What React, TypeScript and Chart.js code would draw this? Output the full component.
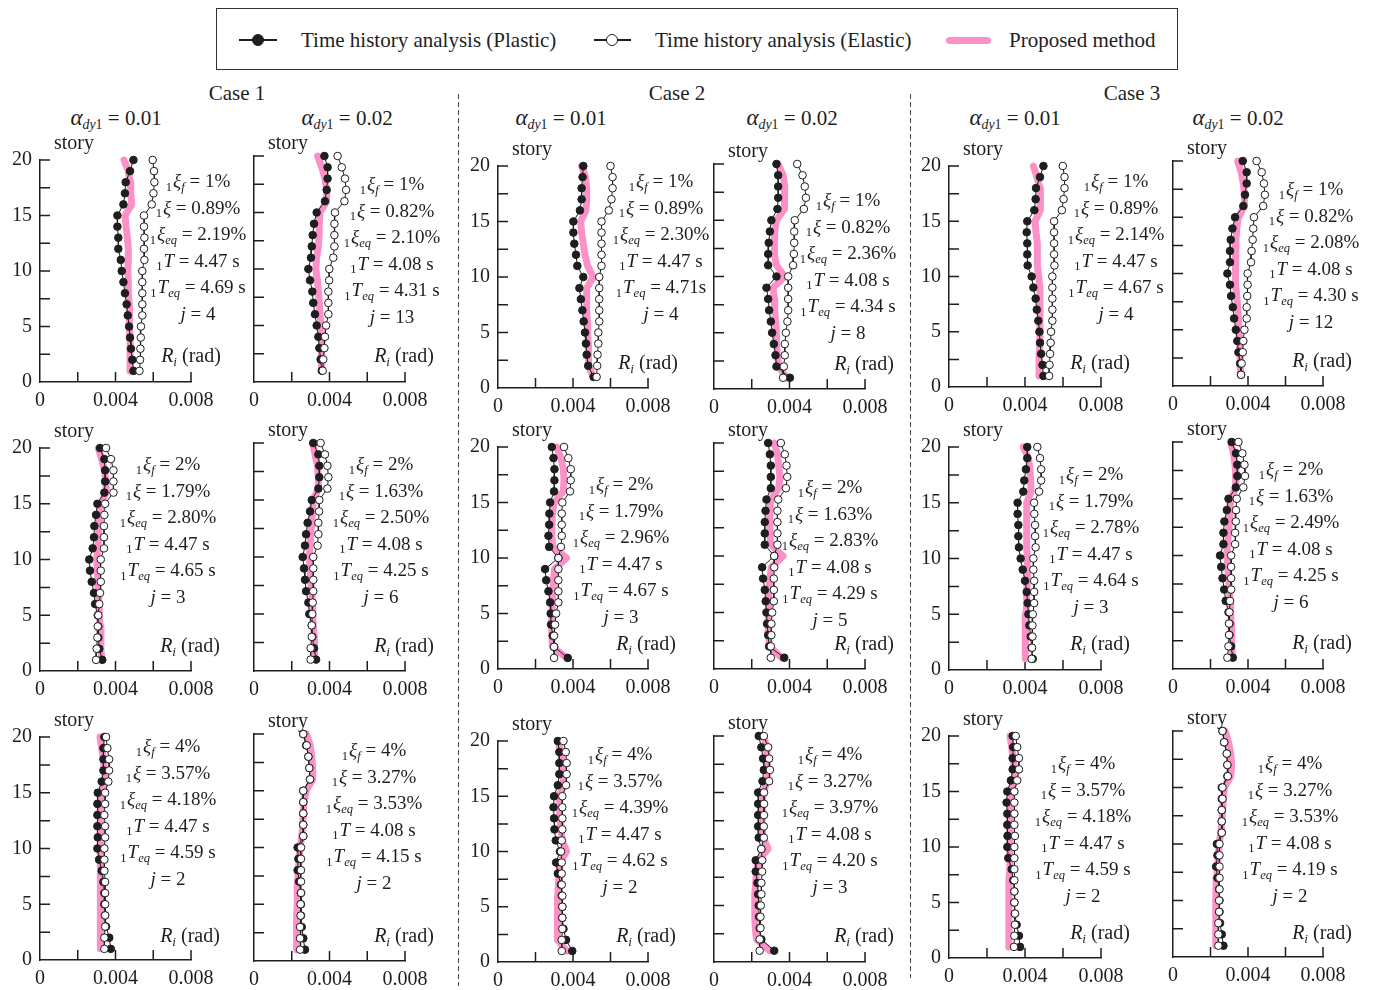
import React, { useEffect, useRef } from "react";
import { Chart, registerables } from "chart.js";

Chart.register(...registerables);

// ---------------- DATA ----------------
// Stories listed from top (20) to bottom (1)
const stories = [20, 19, 18, 17, 16, 15, 14, 13, 12, 11, 10, 9, 8, 7, 6, 5, 4, 3, 2, 1];
// Drift values R_i in units of 1e-3 rad.  c = case, a1 = α_dy1 0.01, a2 = α_dy1 0.02, d = 1ξf (1%, 2%, 4%)

// ---- 1ξf = 1% ----
const c1a1d1Plastic = [4.95, 4.77, 4.54, 4.5, 4.42, 4.1, 4.1, 4.15, 4.15, 4.28, 4.33, 4.42, 4.5, 4.59, 4.65, 4.72, 4.77, 4.82, 4.89, 4.95];
const c1a1d1Elastic = [5.97, 6.04, 6.06, 6.01, 5.92, 5.51, 5.51, 5.53, 5.51, 5.53, 5.42, 5.42, 5.42, 5.42, 5.42, 5.35, 5.34, 5.32, 5.3, 5.27];
const c1a1d1Proposed = [4.45, 4.68, 4.77, 4.81, 4.86, 4.51, 4.56, 4.63, 4.68, 4.68, 4.65, 4.68, 4.68, 4.72, 4.73, 4.75, 4.77, 4.77, 4.77, 4.77];

const c1a2d1Plastic = [3.73, 3.9, 3.9, 3.85, 3.76, 3.32, 3.18, 3.11, 3.06, 3.02, 2.88, 2.97, 3.09, 3.14, 3.23, 3.32, 3.41, 3.46, 3.53, 3.59];
const c1a2d1Elastic = [4.43, 4.65, 4.82, 4.88, 4.79, 4.29, 4.26, 4.26, 4.26, 4.2, 3.99, 3.98, 3.94, 3.94, 3.94, 3.82, 3.76, 3.73, 3.67, 3.64];
const c1a2d1Proposed = [3.37, 3.59, 3.76, 3.85, 3.85, 3.5, 3.46, 3.45, 3.41, 3.32, 3.27, 3.36, 3.41, 3.46, 3.5, 3.55, 3.59, 3.59, 3.59, 3.59];

const c2a1d1Plastic = [4.55, 4.51, 4.46, 4.46, 4.37, 4.02, 4.02, 4.07, 4.16, 4.23, 4.55, 4.34, 4.42, 4.5, 4.57, 4.64, 4.69, 4.73, 4.81, 5.1];
const c2a1d1Elastic = [6.0, 6.11, 6.11, 6.05, 5.91, 5.52, 5.52, 5.52, 5.52, 5.52, 5.4, 5.4, 5.4, 5.4, 5.4, 5.35, 5.35, 5.31, 5.29, 5.26];
const c2a1d1Proposed = [4.46, 4.67, 4.73, 4.73, 4.69, 4.41, 4.46, 4.55, 4.64, 4.78, 5.08, 4.73, 4.73, 4.73, 4.76, 4.78, 4.81, 4.81, 4.85, 5.08];

const c2a2d1Plastic = [3.31, 3.4, 3.4, 3.4, 3.36, 3.04, 2.96, 2.9, 2.87, 2.87, 3.31, 2.78, 2.87, 2.92, 3.01, 3.08, 3.17, 3.26, 3.31, 4.02];
const c2a2d1Elastic = [4.41, 4.69, 4.81, 4.87, 4.76, 4.28, 4.25, 4.25, 4.23, 4.19, 3.93, 3.93, 3.93, 3.93, 3.89, 3.81, 3.75, 3.75, 3.7, 3.66];
const c2a2d1Proposed = [3.4, 3.66, 3.75, 3.75, 3.72, 3.31, 3.22, 3.19, 3.22, 3.31, 3.75, 3.13, 3.19, 3.22, 3.26, 3.31, 3.31, 3.36, 3.43, 3.84];

const c3a1d1Plastic = [4.97, 4.79, 4.58, 4.56, 4.49, 4.12, 4.09, 4.12, 4.12, 4.14, 4.35, 4.44, 4.56, 4.62, 4.7, 4.76, 4.79, 4.85, 4.92, 4.97];
const c3a1d1Elastic = [5.99, 6.08, 6.08, 6.03, 5.94, 5.53, 5.53, 5.53, 5.53, 5.55, 5.44, 5.44, 5.44, 5.44, 5.44, 5.37, 5.35, 5.32, 5.29, 5.27];
const c3a1d1Proposed = [4.44, 4.63, 4.79, 4.79, 4.83, 4.53, 4.58, 4.65, 4.65, 4.65, 4.72, 4.79, 4.79, 4.79, 4.79, 4.79, 4.79, 4.76, 4.74, 4.74];

const c3a2d1Plastic = [3.72, 3.93, 3.93, 3.84, 3.75, 3.31, 3.17, 3.08, 3.04, 3.04, 2.9, 3.04, 3.1, 3.19, 3.26, 3.35, 3.43, 3.49, 3.58, 3.63];
const c3a2d1Elastic = [4.46, 4.73, 4.85, 4.9, 4.81, 4.32, 4.28, 4.25, 4.19, 4.16, 3.98, 3.98, 3.96, 3.93, 3.93, 3.81, 3.75, 3.72, 3.66, 3.63];
const c3a2d1Proposed = [3.45, 3.63, 3.75, 3.81, 3.81, 3.49, 3.4, 3.36, 3.36, 3.31, 3.31, 3.36, 3.4, 3.45, 3.49, 3.52, 3.54, 3.58, 3.58, 3.61];

// ---- 1ξf = 2% ----
const c1a1d2Plastic = [3.18, 3.41, 3.45, 3.45, 3.41, 3.04, 2.97, 2.88, 2.86, 2.79, 2.61, 2.65, 2.74, 2.86, 2.92, 3.06, 3.09, 3.09, 3.14, 3.3];
const c1a1d2Elastic = [3.5, 3.76, 3.89, 3.89, 3.89, 3.45, 3.41, 3.39, 3.39, 3.39, 3.22, 3.22, 3.22, 3.18, 3.14, 3.09, 3.06, 3.04, 3.0, 2.97];
const c1a1d2Proposed = [3.09, 3.27, 3.41, 3.5, 3.5, 3.23, 3.18, 3.13, 3.09, 3.06, 3.0, 3.04, 3.06, 3.09, 3.13, 3.14, 3.18, 3.22, 3.23, 3.27];

const c1a2d2Plastic = [3.14, 3.41, 3.46, 3.46, 3.41, 3.06, 2.97, 2.84, 2.76, 2.7, 2.58, 2.65, 2.7, 2.76, 2.88, 2.93, 3.06, 3.09, 3.18, 3.29];
const c1a2d2Elastic = [3.53, 3.76, 3.89, 3.94, 3.89, 3.46, 3.45, 3.41, 3.41, 3.37, 3.14, 3.14, 3.14, 3.14, 3.11, 3.09, 3.06, 3.06, 3.0, 3.0];
const c1a2d2Proposed = [3.11, 3.23, 3.36, 3.41, 3.41, 3.14, 3.09, 3.06, 3.0, 2.97, 2.93, 2.97, 3.0, 3.06, 3.09, 3.11, 3.14, 3.18, 3.18, 3.23];

const c2a1d2Plastic = [2.87, 2.96, 3.01, 3.01, 2.99, 2.78, 2.74, 2.73, 2.69, 2.73, 3.22, 2.51, 2.57, 2.69, 2.78, 2.81, 2.83, 2.92, 2.99, 3.72];
const c2a1d2Elastic = [3.52, 3.75, 3.88, 3.88, 3.84, 3.43, 3.4, 3.4, 3.4, 3.36, 3.22, 3.22, 3.22, 3.22, 3.22, 3.1, 3.04, 2.99, 2.99, 2.99];
const c2a1d2Proposed = [3.13, 3.36, 3.49, 3.52, 3.48, 2.99, 2.9, 2.87, 2.87, 2.92, 3.66, 3.01, 2.96, 2.92, 2.9, 2.87, 2.87, 2.87, 2.9, 3.66];

const c2a2d2Plastic = [2.87, 2.96, 3.01, 3.01, 3.01, 2.78, 2.73, 2.69, 2.69, 2.69, 3.19, 2.55, 2.6, 2.69, 2.74, 2.78, 2.81, 2.87, 2.92, 3.72];
const c2a2d2Elastic = [3.54, 3.75, 3.84, 3.88, 3.81, 3.4, 3.36, 3.36, 3.36, 3.36, 3.19, 3.19, 3.17, 3.17, 3.17, 3.08, 3.04, 3.04, 3.01, 3.01];
const c2a2d2Proposed = [3.19, 3.36, 3.43, 3.49, 3.43, 3.01, 2.96, 2.96, 2.96, 3.01, 3.66, 3.04, 2.96, 2.9, 2.87, 2.87, 2.87, 2.87, 2.96, 3.58];

const c3a1d2Plastic = [4.12, 4.12, 4.05, 3.96, 3.91, 3.61, 3.61, 3.65, 3.65, 3.68, 3.77, 3.88, 4.0, 4.09, 4.14, 4.18, 4.23, 4.3, 4.35, 4.41];
const c3a1d2Elastic = [4.65, 4.79, 4.85, 4.85, 4.74, 4.48, 4.49, 4.53, 4.53, 4.56, 4.44, 4.44, 4.48, 4.48, 4.48, 4.41, 4.39, 4.39, 4.37, 4.35];
const c3a1d2Proposed = [3.91, 4.18, 4.26, 4.3, 4.32, 4.09, 4.09, 4.09, 4.09, 4.09, 4.12, 4.12, 4.12, 4.09, 4.09, 4.05, 4.04, 4.02, 4.0, 4.0];

const c3a2d2Plastic = [3.13, 3.36, 3.43, 3.43, 3.35, 2.96, 2.87, 2.74, 2.69, 2.69, 2.51, 2.57, 2.64, 2.73, 2.81, 2.96, 3.01, 3.01, 3.1, 3.19];
const c3a2d2Elastic = [3.49, 3.7, 3.81, 3.84, 3.75, 3.4, 3.36, 3.35, 3.31, 3.31, 3.1, 3.1, 3.1, 3.1, 3.04, 3.01, 2.99, 2.99, 2.96, 2.9];
const c3a2d2Proposed = [3.08, 3.22, 3.31, 3.36, 3.36, 3.08, 3.04, 3.01, 2.96, 2.9, 2.87, 2.92, 2.96, 3.01, 3.04, 3.08, 3.1, 3.13, 3.13, 3.17];

// ---- 1ξf = 4% ----
const c1a1d4Plastic = [3.41, 3.36, 3.36, 3.36, 3.27, 3.06, 3.04, 3.04, 3.04, 3.06, 3.04, 3.13, 3.27, 3.36, 3.41, 3.41, 3.45, 3.5, 3.67, 3.75];
const c1a1d4Elastic = [3.5, 3.57, 3.66, 3.66, 3.62, 3.45, 3.45, 3.41, 3.45, 3.45, 3.41, 3.41, 3.41, 3.45, 3.45, 3.45, 3.45, 3.45, 3.41, 3.41];
const c1a1d4Proposed = [3.18, 3.27, 3.36, 3.41, 3.45, 3.27, 3.23, 3.22, 3.22, 3.22, 3.22, 3.22, 3.22, 3.18, 3.18, 3.18, 3.18, 3.18, 3.18, 3.18];

const c1a2d4Plastic = [2.61, 2.76, 2.88, 2.93, 2.97, 2.61, 2.61, 2.61, 2.61, 2.61, 2.31, 2.35, 2.31, 2.39, 2.49, 2.49, 2.49, 2.53, 2.61, 2.7];
const c1a2d4Elastic = [2.61, 2.79, 2.88, 2.93, 2.97, 2.61, 2.61, 2.61, 2.61, 2.61, 2.49, 2.49, 2.49, 2.49, 2.49, 2.47, 2.47, 2.44, 2.44, 2.44];
const c1a2d4Proposed = [2.79, 2.97, 3.06, 3.11, 3.11, 2.76, 2.65, 2.61, 2.58, 2.53, 2.44, 2.4, 2.35, 2.31, 2.3, 2.28, 2.26, 2.26, 2.26, 2.26];

const c2a1d4Plastic = [3.19, 3.27, 3.27, 3.27, 3.19, 2.99, 2.96, 2.99, 3.01, 3.08, 3.3, 3.1, 3.19, 3.36, 3.4, 3.43, 3.43, 3.49, 3.63, 3.96];
const c2a1d4Elastic = [3.49, 3.61, 3.66, 3.66, 3.63, 3.43, 3.43, 3.43, 3.43, 3.4, 3.36, 3.4, 3.4, 3.4, 3.43, 3.43, 3.43, 3.43, 3.4, 3.4];
const c2a1d4Proposed = [3.19, 3.36, 3.43, 3.49, 3.49, 3.26, 3.26, 3.31, 3.36, 3.43, 3.66, 3.31, 3.26, 3.22, 3.19, 3.17, 3.17, 3.17, 3.19, 3.66];

const c2a2d4Plastic = [2.37, 2.51, 2.6, 2.64, 2.57, 2.34, 2.34, 2.34, 2.34, 2.37, 2.51, 2.21, 2.21, 2.3, 2.34, 2.37, 2.39, 2.42, 2.51, 3.19];
const c2a2d4Elastic = [2.64, 2.87, 2.92, 2.96, 2.92, 2.65, 2.65, 2.65, 2.64, 2.64, 2.51, 2.55, 2.55, 2.51, 2.51, 2.48, 2.46, 2.46, 2.42, 2.42];
const c2a2d4Proposed = [2.65, 2.78, 2.83, 2.87, 2.83, 2.6, 2.57, 2.55, 2.55, 2.6, 2.87, 2.34, 2.25, 2.21, 2.16, 2.16, 2.16, 2.19, 2.25, 2.96];

const c3a1d4Plastic = [3.35, 3.38, 3.35, 3.35, 3.26, 3.07, 3.03, 3.07, 3.07, 3.08, 3.07, 3.12, 3.3, 3.38, 3.44, 3.44, 3.47, 3.56, 3.68, 3.74];
const c3a1d4Elastic = [3.51, 3.59, 3.68, 3.68, 3.59, 3.44, 3.44, 3.44, 3.44, 3.47, 3.44, 3.44, 3.44, 3.44, 3.44, 3.44, 3.47, 3.47, 3.44, 3.42];
const c3a1d4Proposed = [3.21, 3.3, 3.38, 3.44, 3.47, 3.26, 3.24, 3.21, 3.21, 3.21, 3.21, 3.21, 3.17, 3.15, 3.15, 3.15, 3.15, 3.15, 3.15, 3.15];

const c3a2d4Plastic = [2.64, 2.73, 2.87, 2.9, 2.9, 2.6, 2.6, 2.6, 2.6, 2.6, 2.34, 2.37, 2.3, 2.37, 2.46, 2.48, 2.48, 2.51, 2.6, 2.69];
const c3a2d4Elastic = [2.64, 2.73, 2.87, 2.9, 2.92, 2.64, 2.64, 2.6, 2.6, 2.6, 2.48, 2.48, 2.48, 2.48, 2.48, 2.46, 2.46, 2.42, 2.42, 2.42];
const c3a2d4Proposed = [2.78, 2.96, 3.08, 3.13, 3.08, 2.74, 2.69, 2.65, 2.6, 2.55, 2.46, 2.42, 2.37, 2.34, 2.3, 2.28, 2.28, 2.28, 2.28, 2.28];

// Axis ticks
const xTickLabels = [0, 0.004, 0.008];
const yTickLabels = [0, 5, 10, 15, 20];

// Annotation values
const xiF = ["1%", "2%", "4%"];
const xiByAlpha = [
  ["0.89%", "0.82%"],
  ["1.79%", "1.63%"],
  ["3.57%", "3.27%"],
];
const xiEq = [
  ["2.19%", "2.10%", "2.30%", "2.36%", "2.14%", "2.08%"],
  ["2.80%", "2.50%", "2.96%", "2.83%", "2.78%", "2.49%"],
  ["4.18%", "3.53%", "4.39%", "3.97%", "4.18%", "3.53%"],
];
const periodT = ["4.47 s", "4.08 s"];
const periodTeq = [
  ["4.69 s", "4.31 s", "4.71s", "4.34 s", "4.67 s", "4.30 s"],
  ["4.65 s", "4.25 s", "4.67 s", "4.29 s", "4.64 s", "4.25 s"],
  ["4.59 s", "4.15 s", "4.62 s", "4.20 s", "4.59 s", "4.19 s"],
];
const jValues = [
  [4, 13, 4, 8, 4, 12],
  [3, 6, 3, 5, 3, 6],
  [2, 2, 2, 3, 2, 2],
];
const caseNames = ["Case 1", "Case 2", "Case 3"];
const alphaValues = ["0.01", "0.02"];
const legendLabels = ["Time history analysis (Plastic)", "Time history analysis (Elastic)", "Proposed method"];

const panelSeries = [
  [
    [c1a1d1Plastic, c1a1d1Elastic, c1a1d1Proposed],
    [c1a2d1Plastic, c1a2d1Elastic, c1a2d1Proposed],
    [c2a1d1Plastic, c2a1d1Elastic, c2a1d1Proposed],
    [c2a2d1Plastic, c2a2d1Elastic, c2a2d1Proposed],
    [c3a1d1Plastic, c3a1d1Elastic, c3a1d1Proposed],
    [c3a2d1Plastic, c3a2d1Elastic, c3a2d1Proposed],
  ],
  [
    [c1a1d2Plastic, c1a1d2Elastic, c1a1d2Proposed],
    [c1a2d2Plastic, c1a2d2Elastic, c1a2d2Proposed],
    [c2a1d2Plastic, c2a1d2Elastic, c2a1d2Proposed],
    [c2a2d2Plastic, c2a2d2Elastic, c2a2d2Proposed],
    [c3a1d2Plastic, c3a1d2Elastic, c3a1d2Proposed],
    [c3a2d2Plastic, c3a2d2Elastic, c3a2d2Proposed],
  ],
  [
    [c1a1d4Plastic, c1a1d4Elastic, c1a1d4Proposed],
    [c1a2d4Plastic, c1a2d4Elastic, c1a2d4Proposed],
    [c2a1d4Plastic, c2a1d4Elastic, c2a1d4Proposed],
    [c2a2d4Plastic, c2a2d4Elastic, c2a2d4Proposed],
    [c3a1d4Plastic, c3a1d4Elastic, c3a1d4Proposed],
    [c3a2d4Plastic, c3a2d4Elastic, c3a2d4Proposed],
  ],
];

// ---------------- LAYOUT ----------------
const FONT = '"Liberation Serif", "Times New Roman", Times, serif';
const PINK = "rgb(252,145,200)";
const INK = "#1e1e1e";

const colX0 = [40, 254, 498, 714, 949, 1173];
const colX8 = [191, 405, 648, 865, 1101, 1323];
const rowY20 = [
  [156, 156, 162, 164, 162, 161],
  [444, 443, 443, 443, 443, 442],
  [733, 734, 737, 736, 732, 731],
];
const rowY0 = [
  [382, 382, 388, 389, 387, 386],
  [671, 671, 669, 669, 670, 669],
  [960, 961, 962, 962, 958, 957],
];
const annCx = [
  [198, 392, 661, 848, 1116, 1311],
  [168, 381, 621, 830, 1091, 1291],
  [168, 374, 620, 830, 1083, 1290],
];
const annY = [
  [180, 183, 180, 199, 180, 188],
  [463, 463, 483, 486, 473, 468],
  [745, 749, 753, 753, 762, 762],
];
const riCx = [
  [191, 404, 648, 864, 1100, 1322],
  [190, 404, 646, 864, 1100, 1322],
  [190, 404, 646, 864, 1100, 1322],
];
const riY = [
  [355, 355, 362, 363, 362, 360],
  [645, 645, 643, 643, 643, 642],
  [935, 935, 935, 935, 932, 932],
];
const LINE_GAP = 26.6;

const inwardTicks = {
  id: "inwardTicks",
  beforeDatasetsDraw(chart: any) {
    const { ctx, chartArea } = chart;
    const xs = chart.scales.x;
    const ys = chart.scales.y;
    const L = 10;
    ctx.save();
    ctx.strokeStyle = INK;
    ctx.lineWidth = 1.5;
    ctx.beginPath();
    for (let s = 2.5; s <= 20.001; s += 2.5) {
      const py = ys.getPixelForValue(s);
      ctx.moveTo(chartArea.left, py);
      ctx.lineTo(chartArea.left + L, py);
    }
    for (let k = 1; k <= 4; k++) {
      const px = xs.getPixelForValue(k * 0.002);
      ctx.moveTo(px, chartArea.bottom);
      ctx.lineTo(px, chartArea.bottom - L);
    }
    ctx.stroke();
    ctx.restore();
  },
};

function Panel({ row, col }: { row: number; col: number }) {
  const ref = useRef<HTMLCanvasElement>(null);
  const YW = 46;
  const XH = 40;
  const PT = 16;
  const PR = 34;
  const x0 = colX0[col];
  const w = colX8[col] - x0;
  const y20 = rowY20[row][col];
  const h = rowY0[row][col] - y20;
  const left = x0 - YW;
  const top = y20 - PT;
  const cw = YW + w + PR;
  const ch = PT + h + XH;
  const showYLabels = col % 2 === 0;
  const [plastic, elastic, proposed] = panelSeries[row][col];

  useEffect(() => {
    if (!ref.current) return;
    const pts = (arr: number[]) => arr.map((v, i) => ({ x: v / 1000, y: stories[i] }));
    const tickFont = { family: FONT, size: 20 };
    const chart = new Chart(ref.current, {
      type: "scatter",
      data: {
        datasets: [
          {
            label: legendLabels[1],
            data: pts(elastic),
            showLine: true,
            borderColor: INK,
            borderWidth: 1,
            pointRadius: 3.8,
            pointBackgroundColor: "#ffffff",
            pointBorderColor: INK,
            pointBorderWidth: 1,
            clip: false,
            order: 1,
          },
          {
            label: legendLabels[0],
            data: pts(plastic),
            showLine: true,
            borderColor: INK,
            borderWidth: 1,
            pointRadius: 3.8,
            pointBackgroundColor: INK,
            pointBorderColor: INK,
            pointBorderWidth: 1,
            clip: false,
            order: 2,
          },
          {
            label: legendLabels[2],
            data: pts(proposed),
            showLine: true,
            borderColor: PINK,
            borderWidth: 7,
            pointRadius: 0,
            borderJoinStyle: "round",
            borderCapStyle: "round",
            clip: false,
            order: 3,
          },
        ] as any,
      },
      options: {
        responsive: false,
        animation: false,
        devicePixelRatio: 1,
        events: [],
        layout: { padding: { top: PT, right: PR, left: 0, bottom: 0 } },
        plugins: { legend: { display: false }, tooltip: { enabled: false } },
        scales: {
          x: {
            type: "linear",
            min: 0,
            max: 0.008,
            afterFit: (s: any) => {
              s.height = XH;
            },
            afterBuildTicks: (s: any) => {
              s.ticks = xTickLabels.map((v) => ({ value: v }));
            },
            grid: { display: false, drawTicks: false },
            border: { display: true, color: INK, width: 1.5 },
            ticks: {
              padding: 7,
              color: INK,
              font: tickFont,
              maxRotation: 0,
              autoSkip: false,
              callback: (v: any) => (Number(v) === 0 ? "0" : Number(v).toFixed(3)),
            },
          },
          y: {
            type: "linear",
            min: 0,
            max: 20,
            afterFit: (s: any) => {
              s.width = YW;
            },
            afterBuildTicks: (s: any) => {
              s.ticks = yTickLabels.map((v) => ({ value: v }));
            },
            grid: { display: false, drawTicks: false },
            border: { display: true, color: INK, width: 1.5 },
            ticks: {
              display: showYLabels,
              padding: 8,
              color: INK,
              font: tickFont,
              autoSkip: false,
              callback: (v: any) => String(v),
            },
          },
        },
      } as any,
      plugins: [inwardTicks],
    });
    return () => chart.destroy();
  }, []);

  return (
    <canvas
      ref={ref}
      width={cw}
      height={ch}
      style={{ position: "absolute", left, top, width: cw, height: ch }}
    />
  );
}

const subStyle: React.CSSProperties = { fontSize: "0.66em", position: "relative", top: "0.3em" };
const preStyle: React.CSSProperties = { fontSize: "0.66em", position: "relative", top: "0.28em", marginRight: 1 };

function Pre() {
  return <span style={preStyle}>1</span>;
}

function TextAt({ x, y, size, children }: { x: number; y: number; size: number; children: any }) {
  return (
    <div
      style={{
        position: "absolute",
        left: x,
        top: y,
        transform: "translate(-50%, -50%)",
        whiteSpace: "nowrap",
        fontSize: size,
        lineHeight: 1,
        color: INK,
      }}
    >
      {children}
    </div>
  );
}

function Annotations({ row, col }: { row: number; col: number }) {
  const cx = annCx[row][col];
  const y = annY[row][col];
  const a = col % 2;
  const lines = [
    <>
      <Pre />
      <i>ξ</i>
      <span style={subStyle}>
        <i>f</i>
      </span>{" "}
      = {xiF[row]}
    </>,
    <>
      <Pre />
      <i>ξ</i> = {xiByAlpha[row][a]}
    </>,
    <>
      <Pre />
      <i>ξ</i>
      <span style={subStyle}>
        <i>eq</i>
      </span>{" "}
      = {xiEq[row][col]}
    </>,
    <>
      <Pre />
      <i>T</i> = {periodT[a]}
    </>,
    <>
      <Pre />
      <i>T</i>
      <span style={subStyle}>
        <i>eq</i>
      </span>{" "}
      = {periodTeq[row][col]}
    </>,
    <>
      <i>j</i> = {jValues[row][col]}
    </>,
  ];
  return (
    <>
      {lines.map((l, i) => (
        <TextAt key={i} x={cx} y={y + i * LINE_GAP} size={19}>
          {l}
        </TextAt>
      ))}
      <TextAt x={riCx[row][col]} y={riY[row][col]} size={20}>
        <i>R</i>
        <span style={subStyle}>
          <i>i</i>
        </span>{" "}
        (rad)
      </TextAt>
      <TextAt x={colX0[col] + 34} y={rowY20[row][col] - 14} size={20}>
        story
      </TextAt>
    </>
  );
}

function Legend() {
  const cy = 40;
  const line = (x1: number, x2: number) => (
    <div style={{ position: "absolute", left: x1, top: cy - 0.7, width: x2 - x1, height: 1.4, background: INK }} />
  );
  const dot = (cx: number, filled: boolean) => (
    <div
      style={{
        position: "absolute",
        left: cx - 6,
        top: cy - 6,
        width: 12,
        height: 12,
        boxSizing: "border-box",
        borderRadius: "50%",
        border: `1.4px solid ${INK}`,
        background: filled ? INK : "#fff",
      }}
    />
  );
  const label = (x: number, text: string) => (
    <div style={{ position: "absolute", left: x, top: cy, transform: "translateY(-50%)", fontSize: 21, lineHeight: 1, whiteSpace: "nowrap", color: INK }}>
      {text}
    </div>
  );
  return (
    <>
      <div
        style={{
          position: "absolute",
          left: 216,
          top: 8,
          width: 962,
          height: 62,
          boxSizing: "border-box",
          border: "1.4px solid #333",
        }}
      />
      {line(239, 277)}
      {dot(258, true)}
      {label(301, legendLabels[0])}
      {line(594, 631)}
      {dot(612, false)}
      {label(655, legendLabels[1])}
      <div style={{ position: "absolute", left: 946, top: cy - 3.5, width: 45, height: 7, borderRadius: 3.5, background: PINK }} />
      {label(1009, legendLabels[2])}
    </>
  );
}

function Dashed({ x, y1, y2 }: { x: number; y1: number; y2: number }) {
  return (
    <div
      style={{
        position: "absolute",
        left: x,
        top: y1,
        width: 1.3,
        height: y2 - y1,
        background: "repeating-linear-gradient(to bottom, #444 0px, #444 5px, transparent 5px, transparent 8px)",
      }}
    />
  );
}

export default function App() {
  const caseCenters = [237, 677, 1132];
  const alphaCenters = [116, 347, 561, 792, 1015, 1238];
  const rows = [0, 1, 2];
  const cols = [0, 1, 2, 3, 4, 5];
  return (
    <div
      style={{
        position: "absolute",
        left: 0,
        top: 0,
        width: 1375,
        height: 990,
        background: "#fff",
        fontFamily: FONT,
        color: INK,
        overflow: "hidden",
      }}
    >
      <Legend />
      {caseNames.map((c, i) => (
        <TextAt key={c} x={caseCenters[i]} y={93} size={21}>
          {c}
        </TextAt>
      ))}
      {alphaCenters.map((x, i) => (
        <TextAt key={i} x={x} y={118} size={21}>
          <i style={{ fontSize: "1.1em" }}>α</i>
          <span style={{ fontSize: "0.66em", position: "relative", top: "0.3em" }}>
            <i>dy</i>1
          </span>{" "}
          = {alphaValues[i % 2]}
        </TextAt>
      ))}
      <Dashed x={458} y1={94} y2={986} />
      <Dashed x={910} y1={94} y2={978} />
      {rows.map((r) =>
        cols.map((c) => (
          <React.Fragment key={`${r}-${c}`}>
            <Panel row={r} col={c} />
            <Annotations row={r} col={c} />
          </React.Fragment>
        ))
      )}
    </div>
  );
}
